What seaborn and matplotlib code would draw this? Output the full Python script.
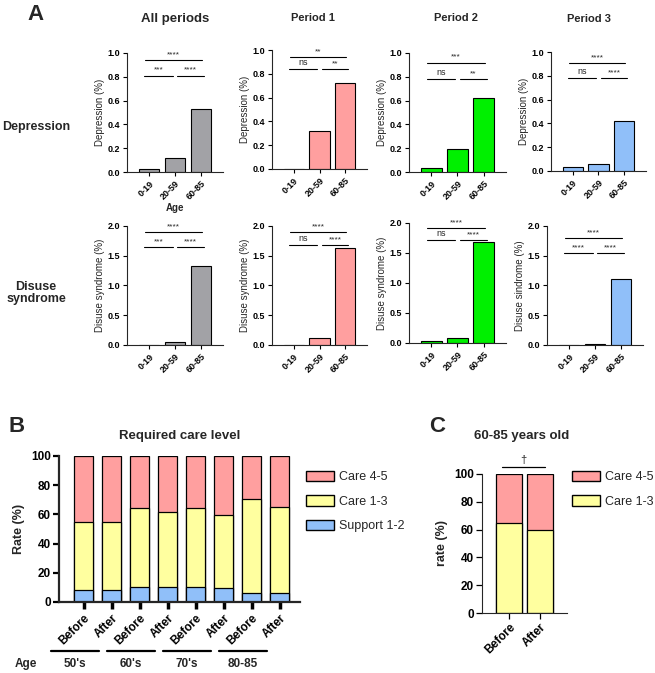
import matplotlib
matplotlib.use('Agg')
import matplotlib.pyplot as plt
from matplotlib.patches import Patch
import numpy as np
import seaborn as sns

# ---- data ----
age_groups = ['0-19', '20-59', '60-85']
periods = ['All periods', 'Period 1', 'Period 2', 'Period 3']
period_colors = ['#A2A2A6', '#FF9F9F', '#00F000', '#90BFF9']

dep_all = [0.025, 0.12, 0.53]
dep_p1 = [0.0, 0.32, 0.72]
dep_p2 = [0.03, 0.19, 0.62]
dep_p3 = [0.035, 0.06, 0.42]

dis_all = [0.0, 0.05, 1.33]
dis_p1 = [0.0, 0.12, 1.63]
dis_p2 = [0.03, 0.08, 1.68]
dis_p3 = [0.0, 0.015, 1.11]

# (top bracket, left pair, right pair)
dep_sig = [('****', '***', '****'), ('**', 'ns', '**'), ('***', 'ns', '**'), ('****', 'ns', '****')]
dis_sig = [('****', '***', '****'), ('****', 'ns', '****'), ('****', 'ns', '****'), ('****', '****', '****')]

care_groups = ["50's", "60's", "70's", "80-85"]
timing = ['Before', 'After']
support_12 = [8.5, 8.5, 10, 10, 10, 9.5, 6.5, 6]
care_13 = [46.5, 46.5, 54.5, 51.5, 54.5, 50, 64, 59]
care_45 = [45, 45, 35.5, 38.5, 35.5, 40.5, 29.5, 35]

old_care_13 = [64.5, 59.5]
old_care_45 = [35.5, 40.5]

# ---- style ----
sns.set_theme(style='ticks')
plt.rcParams['font.family'] = ['Liberation Sans', 'DejaVu Sans']
plt.rcParams['axes.linewidth'] = 0.8

W, H = 655, 673
fig = plt.figure(figsize=(W / 100, H / 100), dpi=100)


def px_axes(l, t, r, b):
    return fig.add_axes([l / W, 1 - b / H, (r - l) / W, (b - t) / H])


def fig_text(x, y, s, **kw):
    fig.text(x / W, 1 - y / H, s, **kw)


def sig(ax, x0, x1, y, label, ymax):
    ax.plot([x0, x1], [y, y], color='black', lw=0.8, clip_on=False)
    ax.text((x0 + x1) / 2, y + ymax * 0.015, label, ha='center', va='bottom',
            fontsize=6 if label != 'ns' else 6.5, clip_on=False)


def panel_a(box, vals, color, ylabel, ymax, yticks, sigs, sig_y, xlabel=None):
    ax = px_axes(*box)
    sns.barplot(x=age_groups, y=vals, order=age_groups, color=color, saturation=1,
                edgecolor='black', linewidth=0.8, width=0.8, errorbar=None, ax=ax)
    ax.set_xlim(-0.85, 2.85)
    ax.set_ylim(0, ymax)
    ax.set_yticks(yticks)
    ax.set_yticklabels([f'{t:.1f}' for t in yticks], fontsize=6.5, fontweight='bold')
    ax.set_xticks(range(3))
    ax.set_xticklabels(age_groups, rotation=45, ha='right', rotation_mode='anchor',
                       fontsize=6.5, fontweight='bold')
    ax.tick_params(axis='both', length=3, width=0.8, pad=2, colors='black')
    ax.set_ylabel(ylabel, fontsize=7, labelpad=2)
    ax.set_xlabel(xlabel if xlabel else '', fontsize=7, fontweight='bold', labelpad=1)
    sns.despine(ax=ax)
    top, low = sig_y
    sig(ax, -0.15, 2.05, top, sigs[0], ymax)
    sig(ax, -0.18, 0.92, low, sigs[1], ymax)
    sig(ax, 1.08, 2.12, low, sigs[2], ymax)
    return ax


dep_vals = [dep_all, dep_p1, dep_p2, dep_p3]
dis_vals = [dis_all, dis_p1, dis_p2, dis_p3]
row1_boxes = [(127, 53, 223, 172), (272, 50, 367, 169), (409, 53, 506, 172), (551, 52, 646, 171)]
row2_boxes = [(127, 226, 223, 345), (272, 226, 367, 345), (409, 223, 506, 343), (547, 226, 643, 345)]
dep_sig_y = [(0.94, 0.81), (0.94, 0.84), (0.92, 0.78), (0.91, 0.78)]
dis_sig_y = [(1.90, 1.65), (1.90, 1.68), (1.92, 1.72), (1.80, 1.55)]
dis_labels = ['Disuse syndrome (%)'] * 3 + ['Disuse sindrome (%)']

for i in range(4):
    panel_a(row1_boxes[i], dep_vals[i], period_colors[i], 'Depression (%)', 1.0,
            np.arange(0, 1.01, 0.2), dep_sig[i], dep_sig_y[i],
            xlabel='Age' if i == 0 else None)
    panel_a(row2_boxes[i], dis_vals[i], period_colors[i], dis_labels[i], 2.0,
            np.arange(0, 2.01, 0.5), dis_sig[i], dis_sig_y[i])

title_pos = [(175, 19), (313, 18), (456, 18), (589, 19)]
for i, t in enumerate(periods):
    fig_text(*title_pos[i], t, ha='center', va='center', fontweight='bold',
             fontsize=9.5 if i == 0 else 8)

fig_text(36, 127, 'Depression', ha='center', va='center', fontsize=9, fontweight='bold')
fig_text(36, 293, 'Disuse\nsyndrome', ha='center', va='center', fontsize=9,
         fontweight='bold', linespacing=1.0)
fig_text(35, 14, 'A', ha='center', va='center', fontsize=16, fontweight='bold')
fig_text(17, 427, 'B', ha='center', va='center', fontsize=16, fontweight='bold')
fig_text(437, 427, 'C', ha='center', va='center', fontsize=16, fontweight='bold')

pink, yellow, blue = '#FF9F9F', '#FFFF9F', '#90BFF9'

# ---- panel B ----
axb = px_axes(59, 456, 300, 602)
pos = np.arange(len(support_12))
stack = np.cumsum([support_12, care_13, care_45], axis=0)
for layer, col in zip(stack[::-1], [pink, yellow, blue]):
    sns.barplot(x=pos, y=layer, color=col, saturation=1, edgecolor='black',
                linewidth=0.9, width=0.68, errorbar=None, ax=axb)
axb.set_xlim(-0.875, 7.73)
axb.set_ylim(0, 100)
axb.set_yticks(range(0, 101, 20))
axb.set_yticklabels(range(0, 101, 20), fontsize=8.5, fontweight='bold')
axb.set_xticks(pos)
axb.set_xticklabels(timing * 4, rotation=45, ha='right', rotation_mode='anchor',
                    fontsize=8.5, fontweight='bold')
for s in ['left', 'bottom']:
    axb.spines[s].set_linewidth(1.6)
axb.tick_params(axis='both', length=4, width=1.6, colors='black', pad=2)
axb.tick_params(axis='x', length=5, width=2.5)
axb.set_ylabel('Rate (%)', fontsize=9, fontweight='bold', labelpad=4)
axb.set_xlabel('')
axb.set_title('Required care level', fontsize=9.5, fontweight='bold', pad=12)
sns.despine(ax=axb)
tr = axb.get_xaxis_transform()
for g, name in enumerate(care_groups):
    x0, x1 = 2 * g - 1.15, 2 * g + 0.55
    axb.plot([x0, x1], [-0.336, -0.336], color='black', lw=1.6, transform=tr, clip_on=False)
    axb.text((x0 + x1) / 2, -0.425, name, transform=tr, ha='center', va='center',
             fontsize=8.5, fontweight='bold')
fig_text(26, 664, 'Age', ha='center', va='center', fontsize=8.5, fontweight='bold')
leg_b = [Patch(facecolor=pink, edgecolor='black', label='Care 4-5'),
         Patch(facecolor=yellow, edgecolor='black', label='Care 1-3'),
         Patch(facecolor=blue, edgecolor='black', label='Support 1-2')]
fig.legend(handles=leg_b, loc='upper left', bbox_to_anchor=(301 / W, 1 - 466 / H),
           frameon=False, fontsize=9, handlelength=2.2, handleheight=0.9,
           labelspacing=0.95, handletextpad=0.45, borderaxespad=0)

# ---- panel C ----
axc = px_axes(482, 474, 567, 613)
posc = np.arange(len(old_care_13))
stack_c = np.cumsum([old_care_13, old_care_45], axis=0)
for layer, col in zip(stack_c[::-1], [pink, yellow]):
    sns.barplot(x=posc, y=layer, color=col, saturation=1, edgecolor='black',
                linewidth=0.9, width=0.84, errorbar=None, ax=axc)
axc.set_xlim(-0.87, 1.87)
axc.set_ylim(0, 100)
axc.set_yticks(range(0, 101, 20))
axc.set_yticklabels(range(0, 101, 20), fontsize=8.5, fontweight='bold')
axc.set_xticks(posc)
axc.set_xticklabels(timing, rotation=45, ha='right', rotation_mode='anchor',
                    fontsize=8.5, fontweight='bold')
axc.tick_params(axis='both', length=4, width=0.9, colors='black', pad=2)
axc.set_ylabel('rate (%)', fontsize=9, fontweight='bold', labelpad=4)
axc.set_xlabel('')
sns.despine(ax=axc)
axc.plot([-0.23, 1.16], [105, 105], color='black', lw=0.9, clip_on=False)
axc.text(0.46, 106.5, '\u2020', ha='center', va='bottom', fontsize=8)
fig_text(522, 436, '60-85 years old', ha='center', va='center', fontsize=9.5, fontweight='bold')
leg_c = [Patch(facecolor=pink, edgecolor='black', label='Care 4-5'),
         Patch(facecolor=yellow, edgecolor='black', label='Care 1-3')]
fig.legend(handles=leg_c, loc='upper left', bbox_to_anchor=(567 / W, 1 - 466 / H),
           frameon=False, fontsize=9, handlelength=2.2, handleheight=0.9,
           labelspacing=0.95, handletextpad=0.45, borderaxespad=0)

fig.savefig('out.png', dpi=100)
